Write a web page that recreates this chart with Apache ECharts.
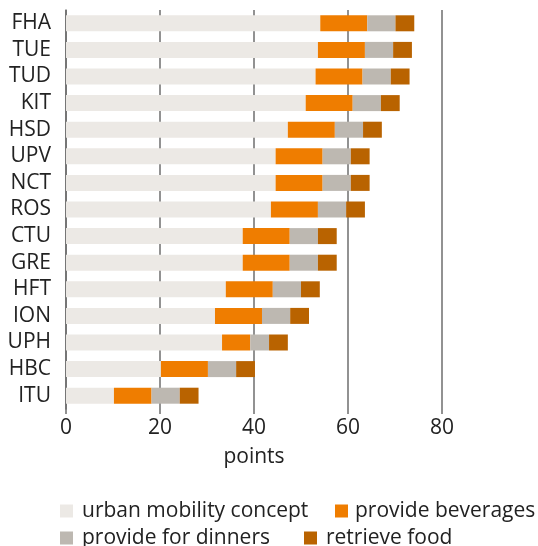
<!DOCTYPE html>
<html>
<head>
<meta charset="utf-8">
<script src="https://cdn.jsdelivr.net/npm/echarts@6/dist/echarts.min.js"></script>
<style>
  html, body { margin: 0; padding: 0; background: #fff; }
  #chart { width: 538px; height: 546px; }
</style>
</head>
<body>
<div id="chart"></div>
<script>
const categories = ['FHA', 'TUE', 'TUD', 'KIT', 'HSD', 'UPV', 'NCT', 'ROS', 'CTU', 'GRE', 'HFT', 'ION', 'UPH', 'HBC', 'ITU']
const mobility = [54.1, 53.6, 53.1, 51, 47.2, 44.6, 44.6, 43.6, 37.6, 37.6, 34, 31.7, 33.2, 20.2, 10.2]
const beverages = [10, 10, 10, 10, 10, 10, 10, 10, 10, 10, 10, 10, 6, 10, 8]
const dinners = [6, 6, 6, 6, 6, 6, 6, 6, 6, 6, 6, 6, 4, 6, 6]
const retrieve = [4, 4, 4, 4, 4, 4, 4, 4, 4, 4, 4, 4, 4, 4, 4]
const xTicks = [0, 20, 40, 60, 80]

const font = 'Open Sans'
const fontSize = 21
const textColor = '#222'
const lineColor = '#6e6e6e'

const chart = echarts.init(document.getElementById('chart'), null, { renderer: 'canvas' })

function bar(name, data, color) {
  return {
    name,
    type: 'bar',
    stack: 'total',
    barWidth: 16,
    data,
    itemStyle: { color },
    emphasis: { disabled: true },
    animation: false
  }
}

// one legend per entry so each sits where the reference puts it
function legendItem(name, left, top, textPad) {
  return {
    left,
    top,
    padding: 0,
    itemWidth: 13,
    itemHeight: 13,
    icon: 'rect',
    textStyle: { fontFamily: font, fontSize: fontSize, color: textColor, lineHeight: 22, padding: [0, 0, 0, textPad] },
    data: [name]
  }
}

chart.setOption({
  animation: false,
  textStyle: { fontFamily: font },
  grid: {
    left: 66,
    right: 96,
    top: 10,
    bottom: 137
  },
  legend: [
    legendItem('urban mobility concept', 60, 500, 4),
    legendItem('provide beverages', 335, 500, 2),
    legendItem('provide for dinners', 60, 527, 4),
    legendItem('retrieve food', 304, 527, 4)
  ],
  xAxis: {
    type: 'value',
    min: xTicks[0],
    max: xTicks[xTicks.length - 1],
    interval: 20,
    name: 'points',
    nameLocation: 'middle',
    nameGap: 38,
    nameTextStyle: { fontFamily: font, fontSize: fontSize, color: textColor },
    axisLine: { show: false },
    axisTick: { show: true, length: 5, lineStyle: { color: lineColor, width: 1.5 } },
    axisLabel: { fontFamily: font, fontSize: fontSize, color: textColor, margin: 9 },
    splitLine: { show: true, lineStyle: { color: lineColor, width: 1.5 } }
  },
  yAxis: {
    type: 'category',
    inverse: true,
    data: categories,
    axisLine: { show: true, lineStyle: { color: lineColor, width: 1.5 } },
    axisTick: { show: false },
    axisLabel: { interval: 0, fontFamily: font, fontSize: fontSize, color: textColor, margin: 15 }
  },
  series: [
    bar('urban mobility concept', mobility, '#ece9e5'),
    bar('provide beverages', beverages, '#ef7d00'),
    bar('provide for dinners', dinners, '#bdb8b1'),
    bar('retrieve food', retrieve, '#b96300')
  ]
})
</script>
</body>
</html>
